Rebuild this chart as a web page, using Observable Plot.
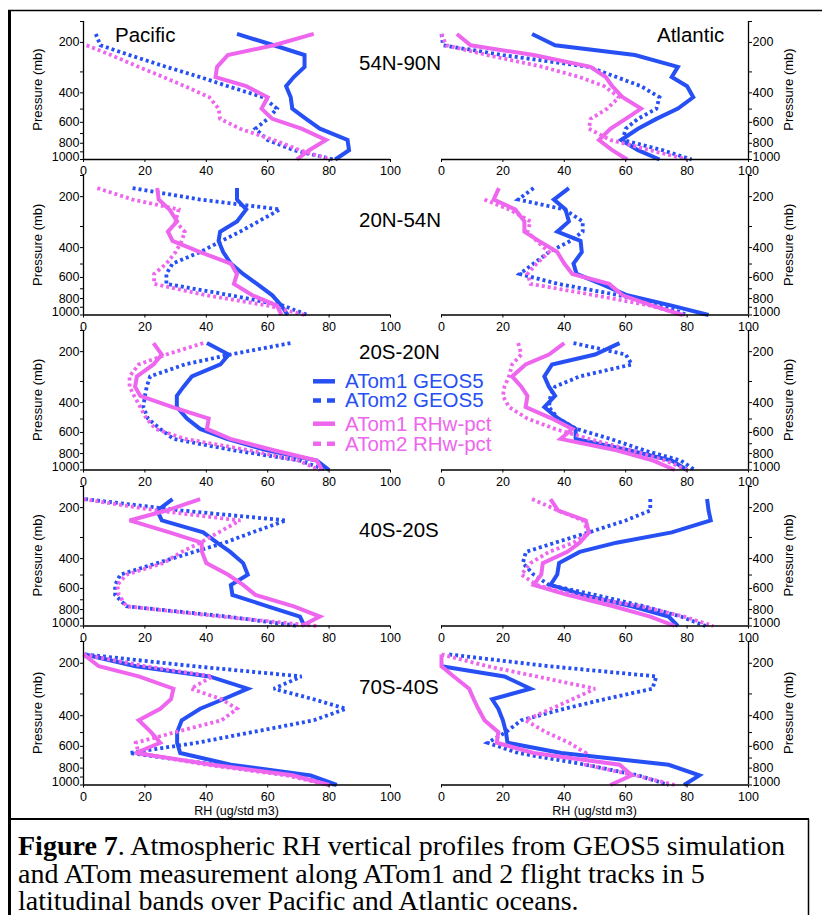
<!DOCTYPE html>
<html><head><meta charset="utf-8">
<script src="https://cdn.jsdelivr.net/npm/d3@7"></script>
<script src="https://cdn.jsdelivr.net/npm/@observablehq/plot@0.6"></script>
<style>
body{margin:0;background:#fff;}
#fig{position:relative;width:822px;height:915px;background:#fff;overflow:hidden;font-family:"Liberation Sans",Arial,sans-serif;}
#fig svg{position:absolute;}
</style></head><body><div id="fig"></div>
<script>
// ---------------- data ----------------
const levels = [178, 208, 238, 280, 322, 365, 425, 497, 572, 655, 765, 880, 1000]; // pressure (mb)
const oceans = ["Pacific", "Atlantic"];
const bands = ["54N-90N", "20N-54N", "20S-20N", "40S-20S", "70S-40S"];
const seriesNames = ["ATom1 GEOS5", "ATom2 GEOS5", "ATom1 RHw-pct", "ATom2 RHw-pct"];
const xTicks = [0, 20, 40, 60, 80, 100];
const yLabelTicks = [200, 400, 600, 800];
const yAllTicks = [150, 200, 300, 400, 500, 600, 700, 800, 900, 1000];
const yTitle = "Pressure (mb)";
const xTitle = "RH (ug/std m3)";

// RH values at each level; order: ATom1 GEOS5, ATom2 GEOS5, ATom1 RHw-pct, ATom2 RHw-pct
const pac_54N_90N = [
  [50, 62, 72, 72, 68.5, 66, 67.5, 68, 72.5, 77, 86, 86.5, 82],
  [4, 5.5, 15, 27, 38, 47, 58.5, 63, 60, 56, 60, 68.5, 81.5],
  [75, 62, 47, 43.5, 43, 53, 60, 58, 61.5, 71, 79, 73.5, 69.5],
  [null, 1, 9, 18, 26, 33, 41, 44, 44.5, 51, 62, 70.5, 80.5]
];
const atl_54N_90N = [
  [29.5, 37, 63, 77, 75, 80, 82, 77, 70, 64, 58.5, 64, 71],
  [0, 0.5, 20, 48, 57, 65, 71, 70, 64, 60, 59, 72, 81.5],
  [5, 9.5, 30, 48.5, 53.5, 55.6, 59, 65, 60, 55, 51.3, 55.6, 60.5],
  [0, 1.5, 15, 33, 45, 53, 57.8, 54, 48.6, 48, 55, 68, 80]
];
const pac_20N_54N = [
  [50, 50, 53, 50, 44.5, 44, 45.5, 48, 52, 56.5, 61.5, 64.5, 66.5],
  [16, 38, 64, 57, 51, 45, 38, 29, 27, 27, 48, 65, 73],
  [24, 24.5, 28, 30.5, 27.5, 29, 38, 48, 50, 49, 55, 63, 64.5],
  [4.5, 16, 31, 30, 33, 32, 30, 27, 23, 23, 40, 60, 72]
];
const atl_20N_54N = [
  [41.5, 36.6, 40.4, 41.5, 37.7, 45.3, 45.7, 43, 44, 52, 60.5, 75, 87],
  [30, 25, 40, 46, 46, 42, 35, 30, 25.5, 38, 58, 72, 80],
  [18.7, 17, 24, 27, 27, 31.7, 37.7, 40, 42.6, 54.6, 59, 68.7, 78.5],
  [null, 14, 22, 29, 28, 31, 35, 31, 28, 29, 50, 68, 79]
];
const pac_20S_20N = [
  [40.2, 47.3, 44.6, 35.3, 32.6, 30.4, 30.4, 33.7, 38, 46.7, 59.8, 76, 80],
  [67.4, 47.8, 33, 21.7, 20.6, 20, 19.5, 21, 25, 29.3, 49, 70.6, 79],
  [22.8, 25.5, 22.8, 17.4, 16.8, 18.5, 29, 40.8, 40.2, 47.8, 62, 76, 77.7],
  [39, 27, 18, 15, 15, 16.5, 18.5, 20.5, 23.5, 33, 54, 70, 77]
];
const atl_20S_20N = [
  [58, 50, 36, 33.5, 35, 37, 33.5, 38, 43.7, 43.7, 61, 75, 80],
  [43, 60, 62, 45, 37, 35.5, 35, 38, 44, 55, 66, 78, 82.5],
  [40, 35, 27.4, 23, 26, 28, 27.4, 36, 42.6, 38.8, 57, 69, 76],
  [25, 26, 23, 22, 20.5, 20, 22, 28, 37, 48, 62, 73, 80]
];
const pac_40S_20S = [
  [29, 24, 25.5, 39, 43.5, 47.8, 52, 53.5, 48, 48.5, 60, 70.5, 72],
  [0.5, 32, 66, 55, 46, 36, 24, 12, 10.3, 10.3, 14, 47, 70],
  [38, 27, 15, 28, 38.5, 38.6, 40, 47, 52, 56, 68.5, 77, 71],
  [0, 24, 51, 44, 38, 32, 26, 14, 11, 11.5, 14, 45, 76]
];
const atl_40S_20S = [
  [86.5, 87, 87.7, 75, 57, 45, 38.3, 37.7, 35.5, 46, 62, 74, 77],
  [68, 68, 60, 48, 37, 27.5, 26.5, 30, 35, 50, 66, 78, 86],
  [35.5, 38, 47, 48, 45, 41, 33, 32.5, 30, 41, 56, 68, 76],
  [29.5, 38, 46, 48, 43, 35, 29, 26, 31, 43, 65, 79, 88.5]
];
const pac_70S_40S = [
  [0.5, 17, 41, 53.5, 45.5, 38, 32, 30.5, 30.5, 31.5, 48, 74, 82.5],
  [0.5, 36, 71, 62, 75, 85.5, 75, 55, 37, 15, 43, 68, 81.5],
  [0, 5, 18, 29.3, 28.5, 25, 18, 22, 25, 17, 42, 68, 80],
  [0, 20, 42, 35, 45, 50, 45, 30, 17, 18, 40, 66, 80]
];
const atl_70S_40S = [
  [null, 0, 20.5, 29, 16.5, 18.5, 20, 21, 21.5, 39, 74, 84, 79],
  [2.5, 35, 70, 68.7, 53, 40, 26, 21, 15, 25, 47, 64, 74],
  [0, 0, 4, 9, 10.5, 12, 14, 18.5, 18, 30, 58, 62, 55],
  [0, 15, 31, 50, 42.6, 35.7, 27.4, 34, 41.5, 47, 47, 63, 76]
];
const panels = [
  [pac_54N_90N, atl_54N_90N],
  [pac_20N_54N, atl_20N_54N],
  [pac_20S_20N, atl_20S_20N],
  [pac_40S_20S, atl_40S_20S],
  [pac_70S_40S, atl_70S_40S]
];

// ---------------- styles / layout ----------------
const BLUE = "#2650f4", PINK = "#ee66ee";
const seriesStyle = [
  {color: BLUE, dash: null},
  {color: BLUE, dash: "3,3"},
  {color: PINK, dash: null},
  {color: PINK, dash: "3,3"}
];
const rowTop = [20.5, 175, 330, 485.5, 641];
const rowBottom = [158.5, 314.5, 469.5, 625, 784.5];
const FONT = '"Liberation Sans", Arial, sans-serif';
const SERIF = '"Liberation Serif", "Times New Roman", serif';
const fig = document.getElementById("fig");
const fmt = d => String(d);

function makePanel(oc, row) {
  const left = oc === 0;
  const mt = 12, mb = 40;
  const W = left ? 420 : 417;
  const ml = left ? 83 : 36, mr = left ? 30 : 74;
  const H = rowBottom[row] - rowTop[row] + mt + mb;
  const anchor = left ? "left" : "right";
  const marks = [];
  panels[row][oc].forEach((vals, i) => {
    const data = levels.map((p, j) => ({p, v: vals[j], s: seriesNames[i]})).filter(d => d.v != null);
    const st = seriesStyle[i];
    marks.push(Plot.line(data, {
      x: "v", y: "p", stroke: st.color,
      strokeWidth: st.dash ? 3.8 : 4,
      strokeDasharray: st.dash || undefined,
      strokeLinecap: "butt", strokeLinejoin: "miter", strokeMiterlimit: 3
    }));
  });
  marks.push(
    Plot.ruleX([left ? 0 : 100], {stroke: "#000", strokeWidth: 1.3}),
    Plot.ruleY([1000], {stroke: "#000", strokeWidth: 1.3}),
    Plot.axisY({anchor, ticks: yAllTicks, tickSize: 3, tickFormat: () => "", label: null}),
    Plot.axisY({anchor, ticks: yLabelTicks, tickSize: 0, tickPadding: 4, tickFormat: fmt, label: null, fontSize: 12.5}),
    Plot.axisY({anchor, ticks: [1000], tickSize: 0, tickPadding: 4, tickFormat: fmt, dy: -3, label: null, fontSize: 12.5}),
    Plot.axisX({ticks: xTicks, tickSize: 3, tickPadding: 4, tickFormat: fmt, label: null, fontSize: 12.5})
  );
  const svg = Plot.plot({
    width: W, height: H,
    marginTop: mt, marginBottom: mb, marginLeft: ml, marginRight: mr,
    x: {domain: [0, 100]},
    y: {type: "log", domain: [150, 1000], range: [mt, H - mb]},
    style: {fontFamily: FONT, fontSize: "12.5px", background: "transparent", overflow: "visible", color: "#000"},
    marks
  });
  svg.style.left = (left ? 0 : 405) + "px";
  svg.style.top = (rowTop[row] - mt) + "px";
  fig.appendChild(svg);
}
for (let r = 0; r < 5; r++) for (let o = 0; o < 2; o++) makePanel(o, r);

// ---------------- overlay: titles, axis titles, legend, frame, caption ----------------
const ns = "http://www.w3.org/2000/svg";
const ov = document.createElementNS(ns, "svg");
ov.setAttribute("width", 822); ov.setAttribute("height", 915);
ov.style.left = "0px"; ov.style.top = "0px";
fig.appendChild(ov);
function el(tag, attrs, text) {
  const e = document.createElementNS(ns, tag);
  for (const k in attrs) e.setAttribute(k, attrs[k]);
  if (text != null) e.textContent = text;
  ov.appendChild(e);
  return e;
}
// frame
el("line", {x1: 9.5, y1: 10, x2: 9.5, y2: 915, stroke: "#000", "stroke-width": 3});
el("line", {x1: 8, y1: 10.5, x2: 822, y2: 10.5, stroke: "#000", "stroke-width": 1.6});
el("line", {x1: 8, y1: 819, x2: 809, y2: 819, stroke: "#000", "stroke-width": 2});
el("line", {x1: 808.5, y1: 819, x2: 808.5, y2: 915, stroke: "#000", "stroke-width": 1.5});
// y axis titles
for (let r = 0; r < 5; r++) {
  const cy = (rowTop[r] + rowBottom[r]) / 2;
  [37, 788].forEach(cx => el("text", {
    x: 0, y: 0, transform: `translate(${cx},${cy}) rotate(-90)`,
    "text-anchor": "middle", "dominant-baseline": "central",
    "font-family": FONT, "font-size": 13
  }, yTitle));
}
// x axis titles (bottom row)
[236.5, 594.5].forEach(cx => el("text", {x: cx, y: 814.5, "text-anchor": "middle", "font-family": FONT, "font-size": 12.5}, xTitle));
// ocean titles
el("text", {x: 115, y: 41.5, "font-family": FONT, "font-size": 20.5}, oceans[0]);
el("text", {x: 657, y: 41.5, "font-family": FONT, "font-size": 20.5}, oceans[1]);
// band titles
const bandBaseline = [70, 226.7, 359, 537.3, 694.3];
bands.forEach((b, i) => el("text", {x: 359, y: bandBaseline[i], "font-family": FONT, "font-size": 20.5}, b));
// legend
const legY = [381.3, 400.5, 423.7, 443.7];
seriesNames.forEach((n, i) => {
  const st = seriesStyle[i];
  const a = {x1: 313, x2: 335, y1: legY[i], y2: legY[i], stroke: st.color, "stroke-width": 4.5};
  if (st.dash) a["stroke-dasharray"] = "8,6";
  el("line", a);
  el("text", {x: 345, y: legY[i] + 6.8, "font-family": FONT, "font-size": 20.5, fill: st.color}, n);
});
// caption
const cap = el("text", {x: 18, y: 855, "font-family": SERIF, "font-size": 28});
const bld = document.createElementNS(ns, "tspan"); bld.setAttribute("font-weight", "bold"); bld.textContent = "Figure 7"; cap.appendChild(bld);
const t1 = document.createElementNS(ns, "tspan"); t1.textContent = ". Atmospheric RH vertical profiles from GEOS5 simulation"; cap.appendChild(t1);
el("text", {x: 18, y: 882.5, "font-family": SERIF, "font-size": 28}, "and ATom measurement along ATom1 and 2 flight tracks in 5");
el("text", {x: 18, y: 910, "font-family": SERIF, "font-size": 28}, "latitudinal bands over Pacific and Atlantic oceans.");
</script></body></html>
